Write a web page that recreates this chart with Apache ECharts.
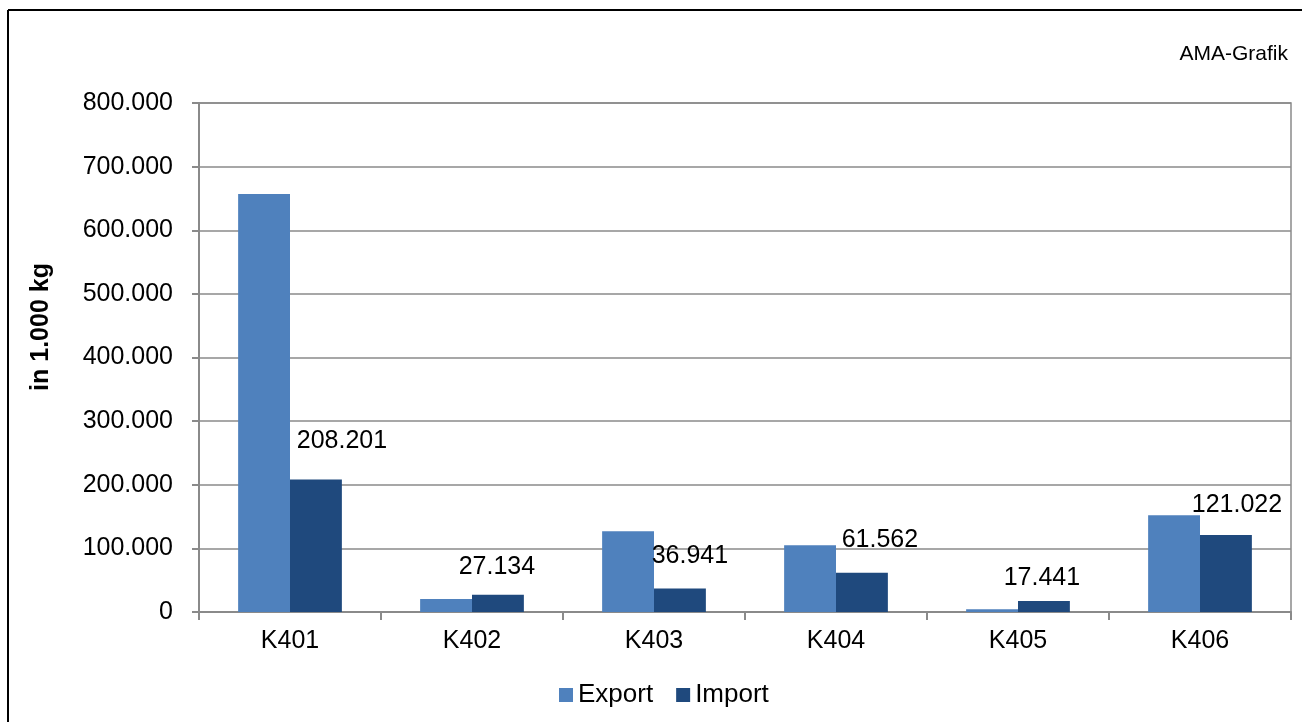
<!DOCTYPE html>
<html>
<head>
<meta charset="utf-8">
<script src="https://cdn.jsdelivr.net/npm/echarts@6/dist/echarts.min.js"></script>
<style>
html,body{margin:0;padding:0;background:#fff;}
#chart{width:1302px;height:722px;}
</style>
</head>
<body>
<div id="chart"></div>
<script>
var categories = ['K401', 'K402', 'K403', 'K404', 'K405', 'K406'];
var exportValues = [657000, 20500, 127000, 105000, 4500, 152000];
var importValues = [208201, 27134, 36941, 61562, 17441, 121022];
var yTicks = { min: 0, max: 800000, interval: 100000 };
var seriesNames = ['Export', 'Import'];
var importLabelOffsets = [[26, -26], [-1, -15], [10, -20], [18, -20], [-2, -10], [11, -17]];

function fmt(v) {
  return String(Math.round(v)).replace(/\B(?=(\d{3})+(?!\d))/g, '.');
}

var FONT = '"Liberation Sans", Arial, sans-serif';
var chart = echarts.init(document.getElementById('chart'), null, { renderer: 'canvas' });

var importData = importValues.map(function (v, i) {
  return { value: v, label: { offset: importLabelOffsets[i] } };
});

chart.setOption({
  animation: false,
  backgroundColor: '#ffffff',
  textStyle: { fontFamily: FONT },
  grid: { left: 199, right: 11, top: 103, bottom: 110, show: true, borderColor: '#8a8a8a', borderWidth: 1.5, backgroundColor: 'transparent' },
  legend: {
    data: seriesNames,
    left: 554,
    top: 677,
    itemWidth: 14,
    itemHeight: 14,
    itemGap: 23,
    icon: 'rect',
    textStyle: { fontSize: 26, color: '#000', fontFamily: FONT }
  },
  xAxis: {
    type: 'category',
    data: categories,
    axisLine: { lineStyle: { color: '#8a8a8a', width: 2 } },
    axisTick: { show: true, length: 8, lineStyle: { color: '#8a8a8a', width: 2 } },
    axisLabel: { fontSize: 25, color: '#000', margin: 17, fontFamily: FONT },
    splitLine: { show: false }
  },
  yAxis: {
    type: 'value',
    min: yTicks.min,
    max: yTicks.max,
    interval: yTicks.interval,
    axisLine: { show: true, lineStyle: { color: '#8a8a8a', width: 2 } },
    axisTick: { show: true, length: 7, lineStyle: { color: '#8a8a8a', width: 2 } },
    axisLabel: { fontSize: 25, color: '#000', margin: 26, fontFamily: FONT, formatter: function (v) { return fmt(v); } },
    splitLine: { show: true, lineStyle: { color: '#8a8a8a', width: 1.5 } }
  },
  series: [
    {
      name: seriesNames[0],
      type: 'bar',
      data: exportValues,
      barGap: '0%',
      barCategoryGap: '43%',
      itemStyle: { color: '#4F81BD' }
    },
    {
      name: seriesNames[1],
      type: 'bar',
      data: importData,
      barGap: '0%',
      barCategoryGap: '43%',
      itemStyle: { color: '#1F497D' },
      label: {
        show: true,
        position: 'top',
        distance: 0,
        fontSize: 25,
        color: '#000',
        fontFamily: FONT,
        formatter: function (p) { return fmt(p.value); }
      }
    }
  ],
  graphic: [
    { type: 'line', shape: { x1: 8, y1: 10, x2: 1302, y2: 10 }, style: { stroke: '#000', lineWidth: 2 } },
    { type: 'line', shape: { x1: 8, y1: 10, x2: 8, y2: 722 }, style: { stroke: '#000', lineWidth: 2 } },
    { type: 'text', right: 14, top: 44, style: { text: 'AMA-Grafik', fill: '#000', font: '21px ' + FONT } },
    { type: 'text', x: 41, y: 327, rotation: Math.PI / 2, style: { text: 'in 1.000 kg', fill: '#000', font: 'bold 25px ' + FONT, textAlign: 'center', textVerticalAlign: 'middle' } }
  ]
});
</script>
</body>
</html>
